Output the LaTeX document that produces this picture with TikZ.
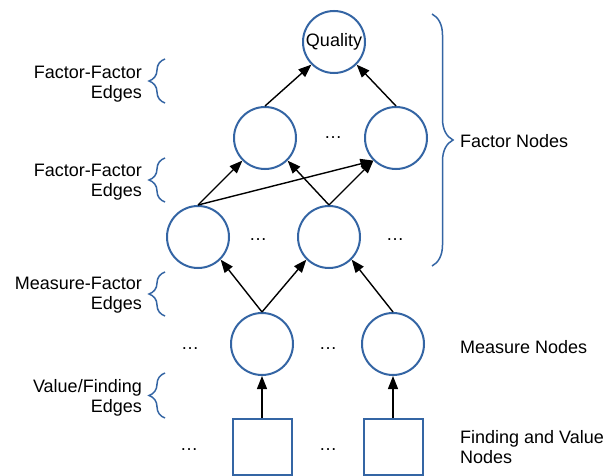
\documentclass[tikz,border=0pt]{standalone}
\usepackage{fontspec}
\setmainfont{Liberation Sans}
\usetikzlibrary{arrows.meta,decorations.pathreplacing}
\definecolor{lblue}{HTML}{3465A4}
\begin{document}
\begin{tikzpicture}[x=1pt,y=-1pt,
  every node/.style={font=\fontsize{18}{20}\selectfont},
  circ/.style={circle,draw=lblue,line width=2pt,minimum size=62pt,inner sep=0pt},
  sq/.style={rectangle,draw=lblue,line width=2pt,minimum width=59pt,minimum height=56pt,inner sep=0pt},
  arr/.style={-{Triangle[length=13pt,width=10pt]},line width=1.4pt,black},
  brc/.style={decorate,decoration={brace,amplitude=#1},draw=lblue,line width=1.5pt},
  lbl/.style={align=right,anchor=north east,inner sep=0pt},
  rlbl/.style={align=left,anchor=north west,inner sep=0pt},
  dotsn/.style={anchor=base,inner sep=0pt}]
\useasboundingbox[fill=white] (0,0) rectangle (610,476);
% nodes
\node[circ] (q) at (334,42) {Quality};
\node[circ] (f1) at (265,138) {};
\node[circ] (f2) at (396,138) {};
\node[circ] (t1) at (198,237) {};
\node[circ] (t2) at (329,237) {};
\node[circ] (m1) at (262,344) {};
\node[circ] (m2) at (393,344) {};
\node[sq] (b1) at (262,446.5) {};
\node[sq] (b2) at (393,446.5) {};
% ellipses
\node[dotsn] (d1) at (333,139) {…};
\node[dotsn] (d2) at (258,240) {…};
\node[dotsn] (d3) at (395,240) {…};
\node[dotsn] (d4) at (190,349) {…};
\node[dotsn] (d5) at (328,349) {…};
\node[dotsn] (d6) at (189,450) {…};
\node[dotsn] (d7) at (328,450) {…};
% edges
\draw[arr] (f1.north) -- (q.south west);
\draw[arr] (f2.north) -- (q.south east);
\draw[arr] (t1.north) -- (f1.south west);
\draw[arr] (t1.north) -- (f2.south west);
\draw[arr] (t2.north) -- (f1.south east);
\draw[arr] (t2.north) -- (f2.south west);
\draw[arr] (m1.north) -- (t1.south east);
\draw[arr] (m1.north) -- (t2.south west);
\draw[arr] (m2.north) -- (t2.south east);
\draw[arr] (b1.north) -- (m1.south);
\draw[arr] (b2.north) -- (m2.south);
% braces
\draw[brc=16] (165,103) -- (165,59);
\draw[brc=16] (165,202) -- (165,158);
\draw[brc=16] (165,316) -- (165,272);
\draw[brc=16] (165,418) -- (165,373);
\draw[brc=21] (432,14) -- (432,266);
% labels
\node[lbl] (l1) at (142,66) {Factor-Factor\\Edges};
\node[lbl] (l2) at (142,164) {Factor-Factor\\Edges};
\node[lbl] (l3) at (142,277) {Measure-Factor\\Edges};
\node[lbl] (l4) at (142,379) {Value/Finding\\Edges};
\node[rlbl] (r1) at (460,134) {Factor Nodes};
\node[rlbl] (r2) at (460,340) {Measure Nodes};
\node[rlbl] (r3) at (460,430) {Finding and Value\\Nodes};
\end{tikzpicture}
\end{document}
